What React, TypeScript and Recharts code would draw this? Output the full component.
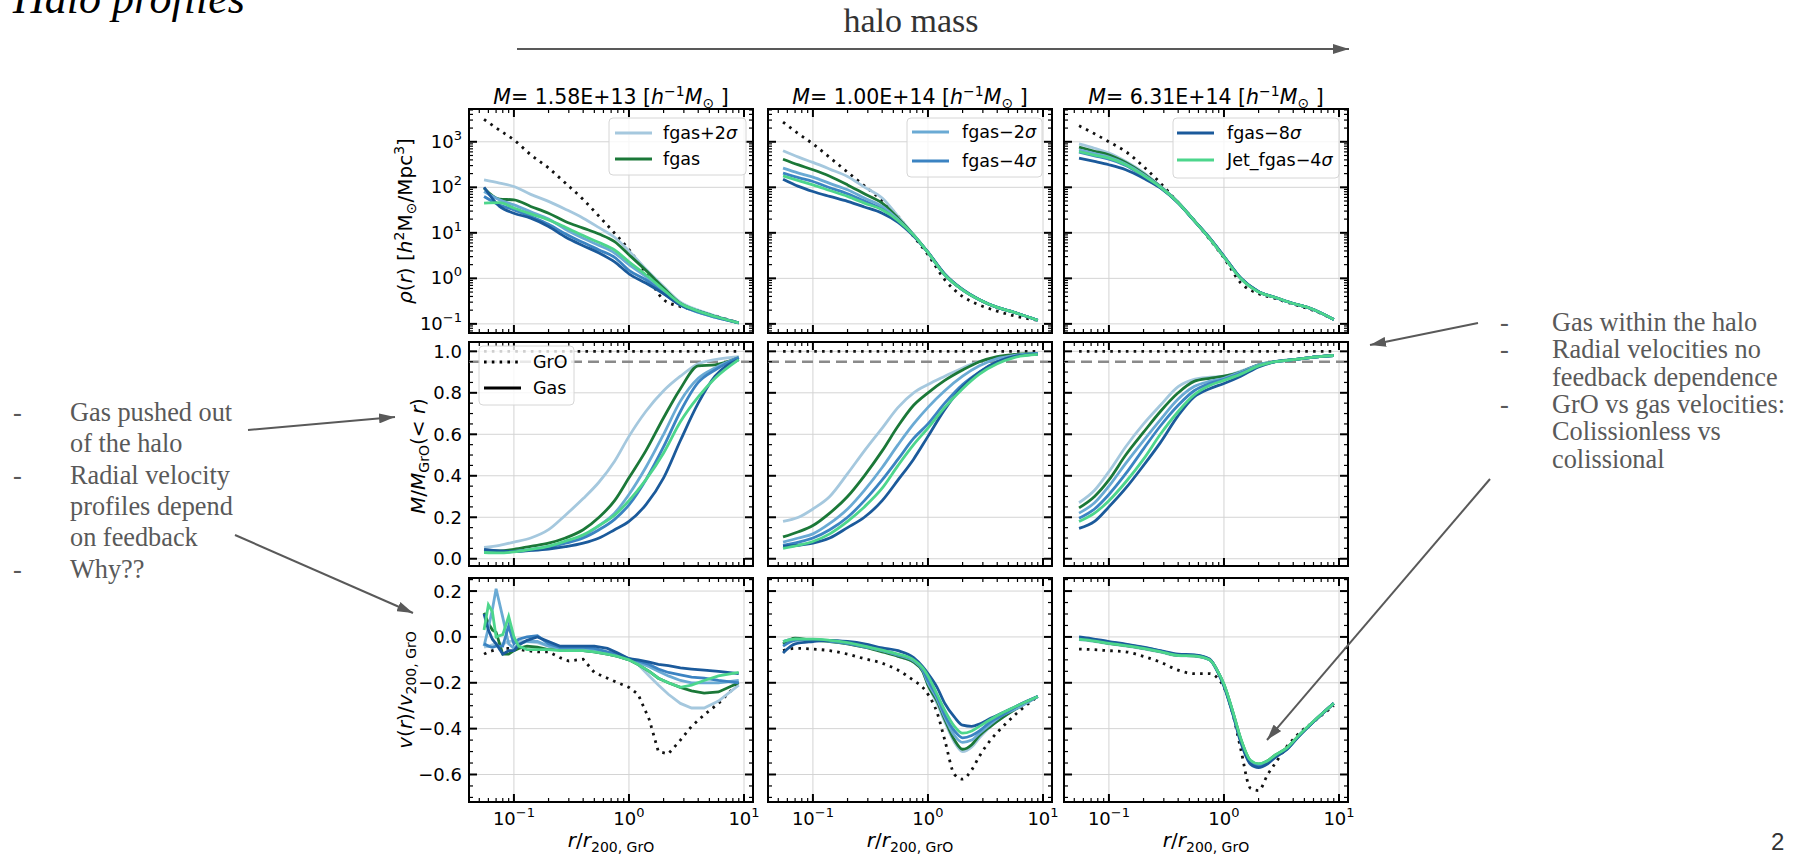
import React from "react";
import { LineChart, Line, XAxis, YAxis, CartesianGrid, ReferenceLine, ReferenceArea } from "recharts";

// radial grids (r / r200,GrO)
const XR = [0.055, 0.075, 0.1, 0.14, 0.2, 0.28, 0.4, 0.55, 0.75, 1.0, 1.4, 2.0, 2.8, 4.0, 5.6, 9.0];
const XV1 = [0.055, 0.06, 0.065, 0.07, 0.08, 0.09, 0.1, 0.11, 0.13, 0.16, 0.2, 0.25, 0.3, 0.4, 0.5, 0.65, 0.8, 1.0, 1.2, 1.5, 1.8, 2.2, 2.8, 3.5, 4.5, 6, 9];
const XV2 = [0.055, 0.07, 0.1, 0.14, 0.2, 0.28, 0.4, 0.55, 0.75, 0.9, 1.0, 1.2, 1.4, 1.7, 2.0, 2.4, 2.8, 3.5, 4.5, 6, 9];

const MASS_TITLES = ["1.58E+13", "1.00E+14", "6.31E+14"];

// series order: GrO, fgas+2σ, fgas, fgas−2σ, fgas−4σ, fgas−8σ, Jet_fgas−4σ
const RHO_P1 = [
  [3100, 1800, 1100, 520, 265, 124, 54, 23, 9.8, 4.3, 1.3, 0.34, 0.24, 0.19, 0.15, 0.105],
  [146, 124, 104, 70, 49, 33, 21, 13, 8, 4.0, 1.6, 0.66, 0.3, 0.2, 0.15, 0.105],
  [96, 55, 53, 38, 27, 17.8, 12.7, 9.4, 6.4, 3.3, 1.5, 0.61, 0.28, 0.19, 0.145, 0.105],
  [81, 53, 41, 29, 20, 12, 7.6, 5.3, 3.6, 2.0, 1.1, 0.51, 0.26, 0.18, 0.14, 0.105],
  [63, 41, 32, 23, 15.5, 9.5, 6.1, 4.2, 2.9, 1.5, 0.93, 0.47, 0.26, 0.18, 0.14, 0.105],
  [100, 38, 27, 21, 13.8, 8.1, 5.2, 3.6, 2.3, 1.26, 0.79, 0.46, 0.26, 0.19, 0.145, 0.105],
  [45, 46, 35, 26, 19.3, 13.3, 8.7, 6.1, 4.2, 2.3, 1.2, 0.56, 0.28, 0.19, 0.145, 0.105],
];
const RHO_P2 = [
  [2700, 1500, 900, 452, 215, 108, 51, 23, 8.3, 3.3, 0.93, 0.4, 0.26, 0.19, 0.15, 0.12],
  [635, 460, 352, 251, 173, 101, 58, 23, 9.1, 3.7, 1.2, 0.56, 0.34, 0.23, 0.18, 0.12],
  [415, 310, 243, 175, 113, 72, 45, 21, 9.0, 3.7, 1.2, 0.56, 0.34, 0.23, 0.18, 0.12],
  [263, 205, 167, 122, 88, 58, 38, 19.4, 8.9, 3.7, 1.2, 0.56, 0.34, 0.23, 0.18, 0.12],
  [205, 163, 134, 98, 72, 50, 33, 17.8, 8.8, 3.7, 1.2, 0.56, 0.34, 0.23, 0.18, 0.12],
  [151, 105, 81, 63, 49, 37, 27, 17, 8.5, 3.75, 1.25, 0.57, 0.34, 0.23, 0.18, 0.12],
  [178, 140, 113, 85, 63, 45, 32, 18.6, 8.9, 3.7, 1.2, 0.56, 0.34, 0.23, 0.18, 0.12],
];
const RHO_P3 = [
  [2250, 1500, 1000, 610, 286, 124, 46, 19, 7.2, 2.8, 0.79, 0.46, 0.36, 0.27, 0.21, 0.125],
  [900, 720, 565, 370, 211, 106, 47, 18.8, 7.6, 3.0, 1.0, 0.51, 0.38, 0.28, 0.22, 0.125],
  [765, 620, 517, 350, 200, 104, 46.5, 18.7, 7.6, 3.0, 1.0, 0.51, 0.38, 0.28, 0.22, 0.125],
  [667, 550, 460, 323, 190, 102, 46, 18.6, 7.6, 3.0, 1.0, 0.51, 0.38, 0.28, 0.22, 0.125],
  [590, 490, 415, 303, 176, 100, 45.5, 18.6, 7.6, 3.0, 1.0, 0.51, 0.38, 0.28, 0.22, 0.125],
  [437, 370, 313, 243, 158, 97, 45, 18.5, 7.7, 3.05, 1.02, 0.51, 0.38, 0.28, 0.22, 0.125],
  [612, 510, 437, 313, 180, 101, 46, 18.6, 7.5, 2.95, 0.99, 0.5, 0.38, 0.28, 0.22, 0.125],
];

const MASS_P1 = [
  [1, 1, 1, 1, 1, 1, 1, 1, 1, 1, 1, 1, 1, 1, 1, 1],
  [0.055, 0.065, 0.08, 0.1, 0.14, 0.21, 0.29, 0.37, 0.47, 0.59, 0.71, 0.81, 0.88, 0.94, 0.96, 0.975],
  [0.04, 0.038, 0.045, 0.06, 0.075, 0.1, 0.14, 0.2, 0.28, 0.39, 0.52, 0.68, 0.82, 0.93, 0.935, 0.97],
  [0.03, 0.03, 0.035, 0.045, 0.06, 0.08, 0.11, 0.16, 0.22, 0.31, 0.44, 0.6, 0.76, 0.87, 0.92, 0.97],
  [0.035, 0.032, 0.035, 0.042, 0.055, 0.075, 0.1, 0.14, 0.19, 0.26, 0.38, 0.54, 0.71, 0.85, 0.91, 0.97],
  [0.045, 0.038, 0.035, 0.04, 0.047, 0.058, 0.075, 0.1, 0.14, 0.18, 0.26, 0.39, 0.57, 0.75, 0.88, 0.96],
  [0.03, 0.028, 0.033, 0.045, 0.06, 0.085, 0.115, 0.16, 0.21, 0.28, 0.38, 0.51, 0.66, 0.78, 0.87, 0.96],
];
const MASS_P2 = [
  [1, 1, 1, 1, 1, 1, 1, 1, 1, 1, 1, 1, 1, 1, 1, 1],
  [0.18, 0.2, 0.24, 0.3, 0.41, 0.52, 0.63, 0.73, 0.8, 0.84, 0.88, 0.92, 0.95, 0.97, 0.98, 0.985],
  [0.105, 0.13, 0.16, 0.22, 0.3, 0.4, 0.52, 0.64, 0.74, 0.8, 0.86, 0.91, 0.95, 0.975, 0.985, 0.99],
  [0.08, 0.1, 0.12, 0.17, 0.24, 0.33, 0.44, 0.55, 0.65, 0.73, 0.81, 0.88, 0.93, 0.965, 0.98, 0.99],
  [0.065, 0.08, 0.1, 0.14, 0.2, 0.28, 0.38, 0.48, 0.58, 0.65, 0.75, 0.84, 0.9, 0.95, 0.975, 0.99],
  [0.06, 0.065, 0.075, 0.1, 0.15, 0.2, 0.28, 0.38, 0.48, 0.59, 0.72, 0.83, 0.9, 0.95, 0.975, 0.985],
  [0.05, 0.065, 0.083, 0.12, 0.18, 0.25, 0.34, 0.45, 0.55, 0.63, 0.73, 0.82, 0.89, 0.94, 0.97, 0.985],
];
const MASS_P3 = [
  [1, 1, 1, 1, 1, 1, 1, 1, 1, 1, 1, 1, 1, 1, 1, 1],
  [0.27, 0.33, 0.42, 0.54, 0.65, 0.74, 0.83, 0.865, 0.875, 0.88, 0.905, 0.935, 0.95, 0.96, 0.97, 0.98],
  [0.245, 0.3, 0.38, 0.5, 0.61, 0.71, 0.8, 0.855, 0.87, 0.88, 0.9, 0.935, 0.95, 0.96, 0.97, 0.98],
  [0.22, 0.27, 0.35, 0.46, 0.57, 0.67, 0.77, 0.83, 0.855, 0.87, 0.9, 0.935, 0.95, 0.96, 0.97, 0.98],
  [0.195, 0.24, 0.31, 0.41, 0.53, 0.64, 0.74, 0.81, 0.845, 0.865, 0.895, 0.93, 0.95, 0.96, 0.97, 0.98],
  [0.146, 0.18, 0.25, 0.34, 0.45, 0.56, 0.69, 0.78, 0.82, 0.845, 0.88, 0.925, 0.95, 0.96, 0.97, 0.98],
  [0.18, 0.22, 0.28, 0.37, 0.48, 0.6, 0.71, 0.79, 0.835, 0.86, 0.89, 0.93, 0.95, 0.96, 0.97, 0.98],
];

const VEL_P1 = [
  [-0.075, -0.065, -0.06, -0.055, -0.05, -0.05, -0.05, -0.055, -0.06, -0.065, -0.065, -0.09, -0.105, -0.097, -0.155, -0.18, -0.2, -0.22, -0.25, -0.36, -0.5, -0.51, -0.45, -0.39, -0.34, -0.29, -0.2],
  [-0.045, -0.04, -0.035, -0.03, -0.03, -0.02, -0.017, -0.02, -0.02, -0.025, -0.04, -0.05, -0.055, -0.06, -0.065, -0.075, -0.085, -0.1, -0.12, -0.17, -0.21, -0.25, -0.29, -0.31, -0.31, -0.28, -0.21],
  [0.105, 0.06, 0.03, 0.02, -0.075, -0.075, -0.06, -0.05, -0.04, -0.045, -0.055, -0.055, -0.06, -0.06, -0.065, -0.075, -0.085, -0.1, -0.12, -0.15, -0.18, -0.2, -0.22, -0.235, -0.245, -0.24, -0.2],
  [-0.04, 0.04, 0.12, 0.21, 0.085, -0.03, -0.05, -0.03, -0.02, -0.02, -0.04, -0.05, -0.05, -0.05, -0.055, -0.07, -0.08, -0.095, -0.11, -0.13, -0.15, -0.17, -0.19, -0.2, -0.2, -0.2, -0.19],
  [-0.03, -0.04, -0.045, -0.04, -0.04, 0.048, -0.03, -0.01, 0.0, 0.005, -0.03, -0.045, -0.045, -0.045, -0.05, -0.065, -0.075, -0.095, -0.105, -0.12, -0.14, -0.155, -0.165, -0.175, -0.18, -0.19, -0.2],
  [0.1, 0.03, -0.01, -0.03, -0.075, -0.06, -0.06, -0.035, -0.015, 0.0, -0.02, -0.04, -0.04, -0.04, -0.04, -0.05, -0.07, -0.095, -0.1, -0.11, -0.12, -0.125, -0.135, -0.14, -0.145, -0.15, -0.16],
  [0.03, 0.14, 0.11, 0.0, 0.01, 0.09, 0.0, -0.04, -0.055, -0.055, -0.055, -0.06, -0.06, -0.06, -0.065, -0.075, -0.085, -0.1, -0.12, -0.15, -0.18, -0.2, -0.22, -0.21, -0.19, -0.17, -0.155],
];
const VEL_P2 = [
  [-0.06, -0.05, -0.053, -0.06, -0.075, -0.095, -0.115, -0.145, -0.19, -0.22, -0.25, -0.33, -0.45, -0.6, -0.62, -0.58, -0.52, -0.45, -0.39, -0.33, -0.26],
  [-0.02, -0.01, -0.015, -0.02, -0.03, -0.045, -0.06, -0.085, -0.11, -0.15, -0.21, -0.29, -0.37, -0.46, -0.5, -0.48, -0.44, -0.39, -0.35, -0.31, -0.26],
  [-0.03, -0.005, -0.015, -0.02, -0.03, -0.045, -0.065, -0.085, -0.11, -0.15, -0.21, -0.28, -0.36, -0.45, -0.49, -0.47, -0.43, -0.39, -0.35, -0.31, -0.26],
  [-0.02, -0.01, -0.012, -0.018, -0.028, -0.042, -0.06, -0.08, -0.105, -0.145, -0.2, -0.27, -0.35, -0.43, -0.46, -0.45, -0.42, -0.38, -0.34, -0.31, -0.26],
  [-0.04, -0.015, -0.012, -0.018, -0.028, -0.042, -0.058, -0.078, -0.1, -0.14, -0.19, -0.26, -0.34, -0.41, -0.44, -0.43, -0.41, -0.37, -0.34, -0.3, -0.26],
  [-0.07, -0.03, -0.02, -0.015, -0.02, -0.03, -0.048, -0.06, -0.09, -0.13, -0.16, -0.22, -0.29, -0.35, -0.385, -0.39, -0.38, -0.355, -0.33, -0.3, -0.26],
  [-0.02, -0.01, -0.01, -0.015, -0.025, -0.04, -0.058, -0.075, -0.1, -0.135, -0.17, -0.25, -0.32, -0.39, -0.42, -0.41, -0.39, -0.36, -0.33, -0.3, -0.26],
];
const VEL_P3 = [
  [-0.053, -0.055, -0.06, -0.065, -0.085, -0.11, -0.145, -0.16, -0.16, -0.185, -0.22, -0.34, -0.49, -0.66, -0.67, -0.6, -0.55, -0.48, -0.42, -0.37, -0.3],
  [-0.012, -0.018, -0.03, -0.04, -0.052, -0.066, -0.082, -0.084, -0.1, -0.16, -0.21, -0.335, -0.45, -0.545, -0.56, -0.545, -0.52, -0.49, -0.43, -0.37, -0.29],
  [-0.01, -0.015, -0.028, -0.038, -0.05, -0.064, -0.081, -0.083, -0.1, -0.158, -0.208, -0.33, -0.445, -0.54, -0.555, -0.54, -0.515, -0.485, -0.43, -0.37, -0.29],
  [-0.008, -0.013, -0.026, -0.036, -0.049, -0.063, -0.08, -0.082, -0.1, -0.16, -0.21, -0.335, -0.45, -0.548, -0.562, -0.547, -0.52, -0.49, -0.43, -0.37, -0.29],
  [-0.004, -0.01, -0.023, -0.034, -0.047, -0.061, -0.078, -0.08, -0.098, -0.16, -0.212, -0.338, -0.455, -0.55, -0.565, -0.55, -0.522, -0.49, -0.43, -0.37, -0.29],
  [0.0, -0.007, -0.02, -0.031, -0.045, -0.06, -0.075, -0.078, -0.096, -0.162, -0.215, -0.34, -0.46, -0.555, -0.57, -0.553, -0.525, -0.492, -0.432, -0.37, -0.29],
  [-0.01, -0.016, -0.028, -0.038, -0.05, -0.064, -0.081, -0.083, -0.1, -0.158, -0.207, -0.33, -0.444, -0.538, -0.553, -0.54, -0.515, -0.485, -0.428, -0.368, -0.29],
];

const X_TICKS = [0.05, 0.06, 0.07, 0.08, 0.09, 0.1, 0.2, 0.3, 0.4, 0.5, 0.6, 0.7, 0.8, 0.9, 1, 2, 3, 4, 5, 6, 7, 8, 9, 10];
const RHO_TICKS = [0.07, 0.08, 0.09, 0.1, 0.2, 0.3, 0.4, 0.5, 0.6, 0.7, 0.8, 0.9, 1, 2, 3, 4, 5, 6, 7, 8, 9, 10, 20, 30, 40, 50, 60, 70, 80, 90, 100, 200, 300, 400, 500, 600, 700, 800, 900, 1000, 2000, 3000, 4000, 5000];
const MASS_TICKS = [0, 0.05, 0.1, 0.15, 0.2, 0.25, 0.3, 0.35, 0.4, 0.45, 0.5, 0.55, 0.6, 0.65, 0.7, 0.75, 0.8, 0.85, 0.9, 0.95, 1.0];
const VEL_TICKS = [-0.7, -0.65, -0.6, -0.55, -0.5, -0.45, -0.4, -0.35, -0.3, -0.25, -0.2, -0.15, -0.1, -0.05, 0, 0.05, 0.1, 0.15, 0.2, 0.25];

const SERIES = [
  { name: "GrO", color: "#111111", dash: "2.6 5.2" },
  { name: "fgas+2σ", color: "#a5c8de" },
  { name: "fgas", color: "#1b7838" },
  { name: "fgas−2σ", color: "#6aaad4" },
  { name: "fgas−4σ", color: "#3b83c2" },
  { name: "fgas−8σ", color: "#1b5a9b" },
  { name: "Jet_fgas−4σ", color: "#4dd68c" },
];

const FONT = "'DejaVu Sans', sans-serif";
const SERIF = "'Liberation Serif', 'Times New Roman', serif";
const TICK_FS = 18;
const SUP_FS = 13;
const NOTE_FS = 26.3;
const PW = 284;
const PH = 224;
const ML = 80;
const MR = 12;
const MT = 12;
const MB = 50;
const COL_X = [469, 768, 1064];
const ROW_Y = [109, 342, 578];

const ROWS = [
  { scale: "log", domain: [0.063, 5250], ticks: RHO_TICKS, majors: [0.1, 1, 10, 100, 1000] },
  { scale: "linear", domain: [-0.035, 1.045], ticks: MASS_TICKS, majors: [0, 0.2, 0.4, 0.6, 0.8, 1.0] },
  { scale: "linear", domain: [-0.72, 0.257], ticks: VEL_TICKS, majors: [-0.6, -0.4, -0.2, 0, 0.2] },
];

const isMajorLog = (v: number) => Math.abs(Math.log10(v) - Math.round(Math.log10(v))) < 1e-6;
const isMajorLin = (v: number) => Math.abs(v / 0.2 - Math.round(v / 0.2)) < 1e-6;
const expLabel = (v: number) => {
  const e = Math.round(Math.log10(v));
  return e < 0 ? "−" + Math.abs(e) : String(e);
};
const linLabel = (v: number) => {
  const s = Math.abs(v).toFixed(1);
  return v < -1e-9 ? "−" + s : s;
};

const makeXTick = (showLabel: boolean) => (p: any) => {
  const { x, y, payload } = p;
  const v = payload.value;
  const major = isMajorLog(v);
  const len = major ? 8 : 4;
  const sw = major ? 2 : 1.2;
  return (
    <g>
      <line x1={x} x2={x} y1={y} y2={y - len} stroke="#000" strokeWidth={sw} />
      <line x1={x} x2={x} y1={y - PH} y2={y - PH + len} stroke="#000" strokeWidth={sw} />
      {showLabel && major && (
        <text x={x} y={y + 23} textAnchor="middle" fontSize={TICK_FS} fontFamily={FONT} fill="#000">
          10<tspan dy={-8} fontSize={SUP_FS}>{expLabel(v)}</tspan>
        </text>
      )}
    </g>
  );
};

const makeYTick = (row: number, showLabel: boolean) => (p: any) => {
  const { x, y, payload } = p;
  const v = payload.value;
  const major = row === 0 ? isMajorLog(v) : isMajorLin(v);
  const len = major ? 8 : 4;
  const sw = major ? 2 : 1.2;
  return (
    <g>
      <line x1={x} x2={x + len} y1={y} y2={y} stroke="#000" strokeWidth={sw} />
      <line x1={x + PW} x2={x + PW - len} y1={y} y2={y} stroke="#000" strokeWidth={sw} />
      {showLabel && major && (
        row === 0 ? (
          <text x={x - 7} y={y + 6} textAnchor="end" fontSize={TICK_FS} fontFamily={FONT} fill="#000">
            10<tspan dy={-8} fontSize={SUP_FS}>{expLabel(v)}</tspan>
          </text>
        ) : (
          <text x={x - 7} y={y + 6.5} textAnchor="end" fontSize={TICK_FS} fontFamily={FONT} fill="#000">
            {linLabel(v)}
          </text>
        )
      )}
    </g>
  );
};

function Panel({ row, col, xs, series, jagged }: { row: number; col: number; xs: number[]; series: number[][]; jagged?: boolean }) {
  const cfg = ROWS[row];
  const data = xs.map((x, i) => {
    const o: Record<string, number> = { x };
    series.forEach((s, k) => {
      o["s" + k] = s[i];
    });
    return o;
  });
  return (
    <div style={{ position: "absolute", left: COL_X[col] - ML, top: ROW_Y[row] - MT }}>
      <LineChart width={ML + PW + MR} height={MT + PH + MB} data={data} margin={{ top: MT, right: MR, left: 0, bottom: 0 }}>
        <CartesianGrid stroke="#d4d4d4" strokeWidth={1} verticalValues={[0.1, 1, 10]} horizontalValues={cfg.majors} />
        <XAxis
          dataKey="x"
          type="number"
          scale="log"
          domain={[0.0407, 11.97]}
          allowDataOverflow
          ticks={X_TICKS}
          interval={0}
          tickSize={0}
          tickMargin={0}
          tickLine={false}
          axisLine={false}
          height={MB}
          tick={makeXTick(row === 2)}
        />
        <YAxis
          type="number"
          scale={cfg.scale as any}
          domain={cfg.domain}
          allowDataOverflow
          ticks={cfg.ticks}
          interval={0}
          tickSize={0}
          tickMargin={0}
          tickLine={false}
          axisLine={false}
          width={ML}
          tick={makeYTick(row, col === 0)}
        />
        {row === 1 && <ReferenceLine y={0.95} stroke="#8a8a8a" strokeWidth={2.6} strokeDasharray="11 6" />}
        {SERIES.map((s, k) => (
          <Line
            key={s.name}
            dataKey={"s" + k}
            stroke={s.color}
            strokeWidth={2.8}
            strokeDasharray={s.dash}
            dot={false}
            type={jagged ? "linear" : "monotone"}
            isAnimationActive={false}
          />
        ))}
        <ReferenceArea
          x1={0.0407}
          x2={11.97}
          y1={cfg.domain[0]}
          y2={cfg.domain[1]}
          fill="none"
          fillOpacity={0}
          stroke="#000"
          strokeWidth={2}
        />
      </LineChart>
    </div>
  );
}

function LegendBox({ x, y, w, h, items, lineX, textX, rowY }: { x: number; y: number; w: number; h: number; items: { label: string; color: string; dash?: string }[]; lineX: number; textX: number; rowY: number[] }) {
  return (
    <g>
      <rect x={x} y={y} width={w} height={h} rx={4} fill="#fff" fillOpacity={0.8} stroke="#d6d6d6" strokeWidth={1} />
      {items.map((it, i) => (
        <g key={it.label}>
          <line x1={lineX} x2={lineX + 37} y1={rowY[i]} y2={rowY[i]} stroke={it.color} strokeWidth={2.8} strokeDasharray={it.dash} />
          <text x={textX} y={rowY[i] + 6} fontSize={17.5} fontFamily={FONT} fill="#000">
            {it.label.replace("σ", "")}
            {it.label.includes("σ") && <tspan fontStyle="italic">σ</tspan>}
          </text>
        </g>
      ))}
    </g>
  );
}

function Overlay() {
  const grey = "#595959";
  const leftLines = [
    { t: "Gas pushed out", dash: true },
    { t: "of the halo", dash: false },
    { t: "Radial velocity", dash: true },
    { t: "profiles depend", dash: false },
    { t: "on feedback", dash: false },
    { t: "Why??", dash: true },
  ];
  const rightLines = [
    { t: "Gas within the halo", dash: true },
    { t: "Radial velocities no", dash: true },
    { t: "feedback dependence", dash: false },
    { t: "GrO vs gas velocities:", dash: true },
    { t: "Colissionless vs", dash: false },
    { t: "colissional", dash: false },
  ];
  const centers = COL_X.map((c) => c + PW / 2);
  return (
    <svg width={1793} height={855} style={{ position: "absolute", left: 0, top: 0, pointerEvents: "none" }}>
      <defs>
        <marker id="ah" markerUnits="userSpaceOnUse" markerWidth={16} markerHeight={10} refX={16} refY={5} orient="auto">
          <path d="M0,0 L16,5 L0,10 z" fill={grey} />
        </marker>
      </defs>
      <text x={13} y={13} fontSize={44} fontStyle="italic" fontFamily={SERIF} fill="#000">Halo profiles</text>
      <text x={911} y={32} fontSize={34} fontFamily={SERIF} fill="#333" textAnchor="middle">halo mass</text>
      <line x1={517} y1={49} x2={1349} y2={49} stroke={grey} strokeWidth={2} markerEnd="url(#ah)" />

      {centers.map((cx, i) => (
        <text key={i} x={cx} y={104} fontSize={20.5} fontFamily={FONT} textAnchor="middle" fill="#000">
          <tspan fontStyle="italic">M</tspan>= {MASS_TITLES[i]} [<tspan fontStyle="italic">h</tspan>
          <tspan dy={-8} fontSize={14}>−1</tspan>
          <tspan dy={8} fontStyle="italic">M</tspan>
          <tspan dy={4} fontSize={14}>⊙</tspan>
          <tspan dy={-4}> ]</tspan>
        </text>
      ))}
      {centers.map((cx, i) => (
        <text key={"xl" + i} x={cx} y={847} fontSize={20} fontFamily={FONT} textAnchor="middle" fill="#000">
          <tspan fontStyle="italic">r</tspan>/<tspan fontStyle="italic">r</tspan>
          <tspan dy={5} fontSize={14}>200, GrO</tspan>
        </text>
      ))}

      <text transform="translate(412,221) rotate(-90)" fontSize={20} fontFamily={FONT} textAnchor="middle" fill="#000">
        <tspan fontStyle="italic">ρ</tspan>(<tspan fontStyle="italic">r</tspan>) [<tspan fontStyle="italic">h</tspan>
        <tspan dy={-8} fontSize={14}>2</tspan>
        <tspan dy={8}>M</tspan>
        <tspan dy={4} fontSize={14}>⊙</tspan>
        <tspan dy={-4}>/Mpc</tspan>
        <tspan dy={-8} fontSize={14}>3</tspan>
        <tspan dy={8}>]</tspan>
      </text>
      <text transform="translate(425,456) rotate(-90)" fontSize={20} fontFamily={FONT} textAnchor="middle" fill="#000">
        <tspan fontStyle="italic">M</tspan>/<tspan fontStyle="italic">M</tspan>
        <tspan dy={4} fontSize={14}>GrO</tspan>
        <tspan dy={-4}>(&lt; </tspan>
        <tspan fontStyle="italic">r</tspan>)
      </text>
      <text transform="translate(412,690) rotate(-90)" fontSize={20} fontFamily={FONT} textAnchor="middle" fill="#000">
        <tspan fontStyle="italic">v</tspan>(<tspan fontStyle="italic">r</tspan>)/<tspan fontStyle="italic">v</tspan>
        <tspan dy={4} fontSize={14}>200, GrO</tspan>
      </text>

      <LegendBox x={609} y={118} w={137} h={57} lineX={615} textX={663} rowY={[133, 159]}
        items={[{ label: SERIES[1].name, color: SERIES[1].color }, { label: SERIES[2].name, color: SERIES[2].color }]} />
      <LegendBox x={907} y={118} w={135} h={59} lineX={912} textX={962} rowY={[132, 161]}
        items={[{ label: SERIES[3].name, color: SERIES[3].color }, { label: SERIES[4].name, color: SERIES[4].color }]} />
      <LegendBox x={1173} y={118} w={166} h={60} lineX={1177} textX={1227} rowY={[133, 160]}
        items={[{ label: SERIES[5].name, color: SERIES[5].color }, { label: SERIES[6].name, color: SERIES[6].color }]} />
      <LegendBox x={479} y={346} w={95} h={59} lineX={484} textX={533} rowY={[362, 388]}
        items={[{ label: "GrO", color: "#000", dash: "2.6 5.2" }, { label: "Gas", color: "#000" }]} />

      {leftLines.map((l, i) => (
        <g key={"l" + i}>
          {l.dash && <text x={13} y={421 + i * 31.3} fontSize={NOTE_FS} fontFamily={SERIF} fill={grey}>-</text>}
          <text x={70} y={421 + i * 31.3} fontSize={NOTE_FS} fontFamily={SERIF} fill={grey}>{l.t}</text>
        </g>
      ))}
      {rightLines.map((l, i) => (
        <g key={"r" + i}>
          {l.dash && <text x={1500} y={331 + i * 27.3} fontSize={NOTE_FS} fontFamily={SERIF} fill={grey}>-</text>}
          <text x={1552} y={331 + i * 27.3} fontSize={NOTE_FS} fontFamily={SERIF} fill={grey}>{l.t}</text>
        </g>
      ))}

      <line x1={248} y1={430} x2={395} y2={417} stroke={grey} strokeWidth={2} markerEnd="url(#ah)" />
      <line x1={235} y1={535} x2={413} y2={613} stroke={grey} strokeWidth={2} markerEnd="url(#ah)" />
      <line x1={1478} y1={323} x2={1370} y2={345} stroke={grey} strokeWidth={2} markerEnd="url(#ah)" />
      <line x1={1490} y1={479} x2={1267} y2={740} stroke={grey} strokeWidth={2} markerEnd="url(#ah)" />

      <text x={1771} y={850} fontSize={24} fontFamily="'Liberation Sans', Arial, sans-serif" fill="#333">2</text>
    </svg>
  );
}

export default function App() {
  return (
    <div style={{ position: "relative", width: 1793, height: 855, background: "#fff", overflow: "hidden" }}>
      <style>{"body{margin:0}"}</style>
      <Panel row={0} col={0} xs={XR} series={RHO_P1} />
      <Panel row={0} col={1} xs={XR} series={RHO_P2} />
      <Panel row={0} col={2} xs={XR} series={RHO_P3} />
      <Panel row={1} col={0} xs={XR} series={MASS_P1} />
      <Panel row={1} col={1} xs={XR} series={MASS_P2} />
      <Panel row={1} col={2} xs={XR} series={MASS_P3} />
      <Panel row={2} col={0} xs={XV1} series={VEL_P1} jagged />
      <Panel row={2} col={1} xs={XV2} series={VEL_P2} />
      <Panel row={2} col={2} xs={XV2} series={VEL_P3} />
      <Overlay />
    </div>
  );
}
